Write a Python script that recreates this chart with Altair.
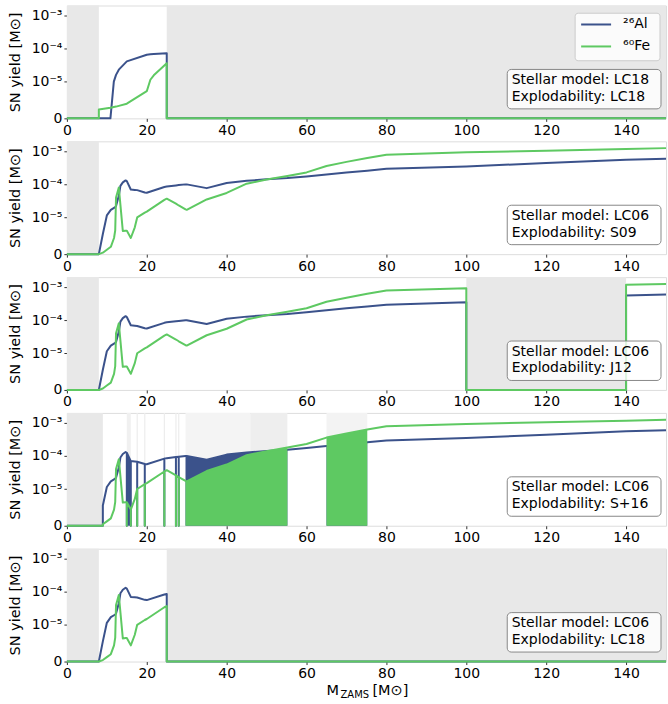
import altair as alt
import pandas as pd

# ---------------- data ----------------
# LC06 stellar-model yields [M_sun] vs M_ZAMS [M_sun]
LC06_MASS = [8.0, 9.0, 10.0, 11.0, 11.8, 12.1, 12.3, 13.0, 13.4, 14.0, 14.7, 15.0, 16.0,
             17.0, 17.6, 19.5, 20.0, 24.4, 25.0, 27.3, 28.0, 29.7, 30.0, 35.0, 40.0, 45.0,
             50.0, 55.2, 60.0, 65.0, 70.0, 75.2, 80.0, 100.0, 120.0, 140.0, 150.0]
LC06_AL = [0.0, 5.5e-6, 1.15e-5, 1.7e-5, 1.95e-5, 2.05e-5, 2.2e-5, 4.5e-5, 9.0e-5, 1.15e-4,
           1.32e-4, 1.25e-4, 7.0e-5, 6.8e-5, 6.7e-5, 5.7e-5, 5.6e-5, 8.3e-5, 8.6e-5, 9.3e-5,
           9.5e-5, 1.0e-4, 1.0e-4, 7.7e-5, 1.1e-4, 1.28e-4, 1.42e-4, 1.55e-4, 1.74e-4, 2.0e-4,
           2.3e-4, 2.6e-4, 2.95e-4, 3.5e-4, 4.4e-4, 5.6e-4, 6.0e-4]
LC06_FE = [0.0, 4e-7, 1.2e-6, 2.0e-6, 4.4e-6, 6.5e-6, 4.0e-5, 8.0e-5, 2.4e-5, 6.3e-6,
           6.4e-6, 6.4e-6, 4.4e-6, 7.3e-6, 1.0e-5, 1.4e-5, 1.5e-5, 3.4e-5, 3.7e-5, 2.6e-5,
           2.3e-5, 1.75e-5, 1.7e-5, 3.5e-5, 5.5e-5, 1.05e-4, 1.4e-4, 1.8e-4, 2.3e-4, 3.6e-4,
           4.8e-4, 6.3e-4, 7.9e-4, 9.3e-4, 1.05e-3, 1.17e-3, 1.25e-3]

# LC18 stellar-model yields
LC18_MASS = [8.0, 10.9, 11.75, 12.3, 13.0, 15.0, 20.0, 20.9, 21.75, 25.0]
LC18_AL = [0.0, 0.0, 1.0e-5, 1.6e-5, 2.3e-5, 4.1e-5, 6.5e-5, 6.7e-5, 6.85e-5, 7.2e-5]
LC18_FE = [2.4e-6, 2.9e-6, 3.1e-6, 3.2e-6, 3.4e-6, 4.0e-6, 7.4e-6, 1.14e-5, 1.55e-5, 3.6e-5]

ISOTOPES = ["²⁶Al", "⁶⁰Fe"]
COLORS = ["#3b528b", "#5ec962"]

MODELS = ["LC18", "LC06", "LC06", "LC06", "LC06"]
EXPLODABILITY = ["LC18", "S09", "J12", "S+16", "LC18"]
# explodable mass ranges per panel
EXPLODABLE = [[(8.0, 25.0)], [(8.0, 150.0)], [(8.0, 100.0), (140.0, 150.0)],
              [(9.0, 150.0)], [(8.0, 25.0)]]
# single non-explodable masses (S+16)
SPIKES = [[], [], [], [15.0, 16.0, 17.6, 19.5, 24.4, 27.3, 28.0], []]
# densely alternating ranges (S+16), per isotope
DENSE_AL = [[], [], [], [(15.0, 16.0), (29.7, 55.2), (65.0, 75.2)], []]
DENSE_FE = [[], [], [], [(29.7, 55.2), (65.0, 75.2)], []]
# shaded (non-explodable) ranges with shade
G = "#e8e8e8"
GREY = [
    [(0, 8, G), (25, 150, G)],
    [(0, 8, G)],
    [(0, 8, G), (100, 140, G)],
    [(0, 9, G), (15.0, 16.0, "#f0f0f0"), (17.45, 17.75, "#ededed"), (19.35, 19.65, "#ededed"),
     (24.25, 24.55, "#ededed"), (27.15, 27.45, "#ededed"), (27.85, 28.15, "#ededed"),
     (29.7, 45.9, "#f4f4f4"), (45.9, 55.2, "#eeeeee"), (65.0, 75.2, "#f3f3f3")],
    [(0, 8, G), (25, 150, G)],
]

W, H = 600, 113
YMAX = 3.414
TY = "datum.v <= 1e-5 ? 1.1111 * datum.v / 1e-5 : 1.1111 + log(datum.v / 1e-5) / LN10"
FONT = "DejaVu Sans"

x_scale = alt.Scale(domain=[0, 150], nice=False, zero=False)
y_scale = alt.Scale(domain=[0, YMAX], nice=False, zero=True)

x_axis = alt.Axis(values=list(range(0, 141, 20)), format="d", title=None, domain=False,
                  grid=False, tickSize=3, tickColor="#333", labelFontSize=14, labelPadding=2,
                  labelColor="#000", labelFlush=False, labelFont=FONT)
y_axis = alt.Axis(values=[0, 1.1111, 2.1111, 3.1111],
                  labelExpr="datum.value < 0.5 ? '0' : datum.value < 1.5 ? '10⁻⁵' : datum.value < 2.5 ? '10⁻⁴' : '10⁻³'",
                  title="SN yield [M⊙]", titleFontSize=14.5, titleFontWeight="normal",
                  titlePadding=9, titleColor="#000", titleFont=FONT, domain=False, grid=False,
                  tickSize=3, tickColor="#333", labelFontSize=14, labelPadding=2,
                  labelColor="#000", labelFont=FONT)


def line_points(mass, vals, explodable, spikes):
    look = dict(zip(mass, vals))
    pts = [(0.0, 0.0)]
    end = 0.0
    for a, b in explodable:
        pts += [(a, 0.0), (a, look[a])]
        for m, v in zip(mass, vals):
            if a < m < b:
                if m in spikes:
                    pts += [(m, v), (m, 0.0), (m, v)]
                else:
                    pts.append((m, v))
        pts.append((b, look[b]))
        if b < 150:
            pts.append((b, 0.0))
        end = b
    if end < 150:
        pts.append((150.0, 0.0))
    return pd.DataFrame({"m": [p[0] for p in pts], "v": [p[1] for p in pts],
                         "o": list(range(len(pts)))})


def area_points(mass, vals, ranges):
    rows = []
    for k, (a, b) in enumerate(ranges):
        for m, v in zip(mass, vals):
            if a <= m <= b:
                rows.append({"m": m, "v": v, "seg": k})
    return pd.DataFrame(rows)


one = pd.DataFrame({"a": [0]})


def panel(i):
    if MODELS[i] == "LC18":
        mass, al, fe = LC18_MASS, LC18_AL, LC18_FE
    else:
        mass, al, fe = LC06_MASS, LC06_AL, LC06_FE
    layers = []
    gdf = pd.DataFrame(GREY[i], columns=["x0", "x1", "shade"])
    layers.append(alt.Chart(gdf).mark_rect().encode(
        x=alt.X("x0:Q", scale=x_scale, axis=x_axis), x2="x1:Q",
        y=alt.value(0), y2=alt.value(H),
        color=alt.Color("shade:N", scale=None)))
    for vals, col, dense in [(al, COLORS[0], DENSE_AL[i]), (fe, COLORS[1], DENSE_FE[i])]:
        if dense:
            layers.append(alt.Chart(area_points(mass, vals, dense)).transform_calculate(ty=TY)
                          .mark_area(color=col, opacity=1).encode(
                x=alt.X("m:Q", scale=x_scale, axis=x_axis),
                y=alt.Y("ty:Q", scale=y_scale, axis=y_axis, stack=None),
                detail="seg:N"))
        layers.append(alt.Chart(line_points(mass, vals, EXPLODABLE[i], SPIKES[i]))
                      .transform_calculate(ty=TY)
                      .mark_line(color=col, strokeWidth=2, strokeJoin="round").encode(
            x=alt.X("m:Q", scale=x_scale, axis=x_axis),
            y=alt.Y("ty:Q", scale=y_scale, axis=y_axis),
            order="o:Q"))
    # annotation box
    layers.append(alt.Chart(one).mark_rect(fill="white", fillOpacity=0.8, stroke="#888",
                                           strokeWidth=1, cornerRadius=4).encode(
        x=alt.value(441), x2=alt.value(595), y=alt.value(64), y2=alt.value(103.5)))
    layers.append(alt.Chart(one).mark_text(align="left", baseline="alphabetic", font=FONT,
                                           fontSize=14, color="#000").encode(
        x=alt.value(445.5), y=alt.value(78.7), text=alt.value("Stellar model: " + MODELS[i])))
    layers.append(alt.Chart(one).mark_text(align="left", baseline="alphabetic", font=FONT,
                                           fontSize=14, color="#000").encode(
        x=alt.value(445.5), y=alt.value(95.5), text=alt.value("Explodability: " + EXPLODABILITY[i])))
    if i == 0:
        layers.append(alt.Chart(one).mark_rect(fill="white", fillOpacity=0.8, stroke="#ccc",
                                               strokeWidth=1, cornerRadius=3).encode(
            x=alt.value(509), x2=alt.value(594), y=alt.value(7.7), y2=alt.value(55.3)))
        for k, yy in enumerate([19.0, 41.0]):
            layers.append(alt.Chart(one).mark_rule(color=COLORS[k], strokeWidth=2).encode(
                x=alt.value(515), x2=alt.value(545), y=alt.value(yy)))
            layers.append(alt.Chart(one).mark_text(align="left", baseline="middle", font=FONT,
                                                   fontSize=14, color="#000").encode(
                x=alt.value(557), y=alt.value(yy), text=alt.value(ISOTOPES[k])))
    if i == 4:
        for txt, xx, yy, fs in [("M", 260, 147, 14.5), ("ZAMS", 274, 150, 10), ("[M⊙]", 306, 147, 14.5)]:
            layers.append(alt.Chart(one).mark_text(align="left", baseline="alphabetic", font=FONT,
                                                   fontSize=fs, color="#000").encode(
                x=alt.value(xx), y=alt.value(yy), text=alt.value(txt)))
    return alt.layer(*layers).properties(width=W, height=H)


chart = alt.vconcat(*[panel(i) for i in range(5)], spacing=23, bounds="flush").properties(
    padding={"left": 6, "top": 4, "right": 0, "bottom": 5}
).configure_view(stroke=None).configure(font=FONT)

chart.save("out.html", embed_options={"renderer": "svg", "actions": False})
